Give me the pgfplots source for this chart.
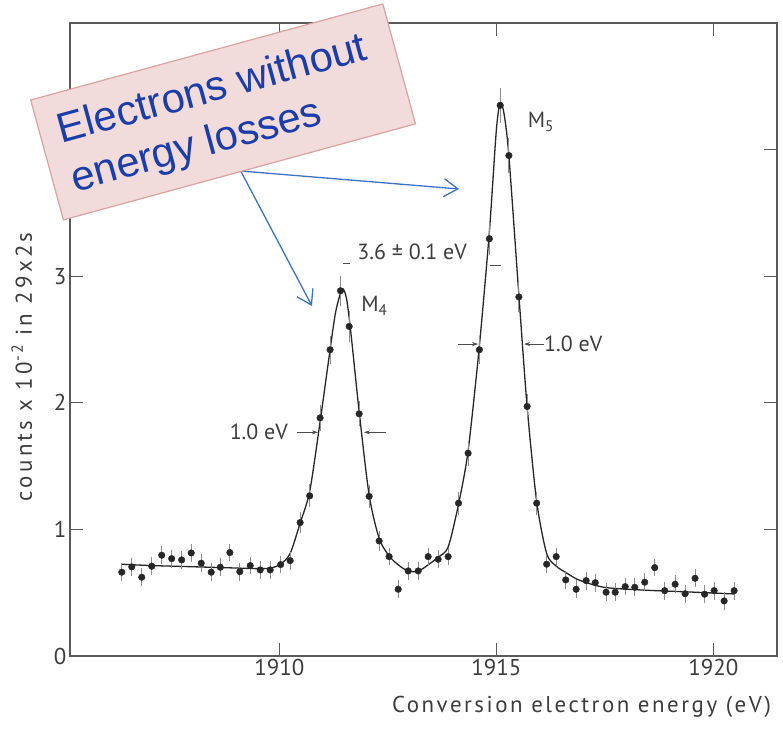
\documentclass[border=0pt]{standalone}
\usepackage{pgfplots}
\pgfplotsset{compat=1.18}
\usepackage{pgfplotstable}
\usepackage{fontspec}
\setmainfont{PT Sans}
\newfontfamily\spacedfont[LetterSpace=14]{PT Sans}
\newfontfamily\xspacedfont[LetterSpace=11]{PT Sans}
\newfontfamily\calloutfont{Liberation Sans}
\usetikzlibrary{arrows.meta}
\definecolor{axisgrey}{HTML}{5A5A5A}
\definecolor{txtgrey}{HTML}{3C3C3C}
\definecolor{pinkfill}{HTML}{F2DBDB}
\definecolor{pinkdraw}{HTML}{D9A3A3}
\definecolor{calloutblue}{HTML}{1A3DAA}
\definecolor{arrowblue}{HTML}{3C72C4}

\pgfplotstableread{
E v err
1906.37 0.662 0.07
1906.60 0.704 0.07
1906.83 0.622 0.07
1907.06 0.709 0.07
1907.29 0.796 0.07
1907.52 0.769 0.07
1907.75 0.759 0.07
1907.97 0.814 0.07
1908.20 0.733 0.07
1908.43 0.662 0.07
1908.64 0.701 0.07
1908.86 0.817 0.07
1909.09 0.666 0.07
1909.33 0.714 0.07
1909.56 0.680 0.07
1909.79 0.680 0.07
1910.03 0.722 0.07
1910.25 0.753 0.07
1910.48 1.054 0.08
1910.70 1.265 0.09
1910.94 1.881 0.10
1911.17 2.419 0.11
1911.41 2.885 0.12
1911.61 2.603 0.12
1911.84 1.913 0.10
1912.07 1.261 0.09
1912.30 0.909 0.08
1912.53 0.785 0.07
1912.74 0.527 0.07
1912.97 0.672 0.07
1913.20 0.672 0.07
1913.43 0.785 0.07
1913.66 0.764 0.07
1913.89 0.785 0.07
1914.13 1.207 0.09
1914.35 1.602 0.10
1914.61 2.419 0.11
1914.84 3.296 0.13
1915.09 4.350 0.14
1915.29 3.953 0.14
1915.52 2.836 0.12
1915.71 1.971 0.10
1915.93 1.207 0.09
1916.16 0.725 0.07
1916.38 0.785 0.07
1916.60 0.601 0.07
1916.84 0.527 0.07
1917.07 0.595 0.07
1917.28 0.579 0.07
1917.53 0.504 0.07
1917.74 0.504 0.07
1917.97 0.548 0.07
1918.19 0.543 0.07
1918.42 0.583 0.07
1918.65 0.698 0.07
1918.88 0.516 0.07
1919.12 0.567 0.07
1919.35 0.492 0.07
1919.58 0.614 0.07
1919.80 0.488 0.07
1920.02 0.516 0.07
1920.25 0.435 0.07
1920.48 0.516 0.07
}\datatable

\pgfplotstableread{
E v
1906.37 0.725
1907.00 0.715
1908.00 0.705
1909.00 0.695
1909.50 0.690
1909.80 0.695
1910.03 0.725
1910.25 0.810
1910.48 1.050
1910.70 1.300
1910.94 1.850
1911.17 2.420
1911.30 2.720
1911.45 2.900
1911.55 2.820
1911.65 2.550
1911.84 1.930
1912.07 1.270
1912.30 0.930
1912.53 0.790
1912.74 0.720
1912.97 0.670
1913.20 0.670
1913.43 0.720
1913.66 0.780
1913.89 0.860
1914.13 1.200
1914.35 1.620
1914.61 2.450
1914.84 3.350
1915.00 4.150
1915.09 4.370
1915.18 4.280
1915.29 3.950
1915.52 2.850
1915.71 1.970
1915.93 1.220
1916.16 0.810
1916.38 0.710
1916.60 0.660
1916.84 0.610
1917.07 0.580
1917.53 0.540
1918.42 0.520
1919.50 0.505
1920.48 0.490
}\fittable

\begin{document}
\begin{tikzpicture}
\path[use as bounding box] (0,0) rectangle (783bp,731bp);
\begin{axis}[
  at={(70bp,75bp)}, anchor=south west,
  scale only axis, width=707bp, height=633bp,
  xmin=1905.177, xmax=1921.468, ymin=0, ymax=5,
  xtick={1910,1915,1920},
  ytick={0,1,2,3,4},
  yticklabels={0,1,2,3,{}},
  tick align=inside,
  major tick length=13bp,
  axis line style={draw=axisgrey, line width=1.3bp},
  every tick/.style={draw=axisgrey, line width=1.3bp},
  /pgf/number format/assume math mode=true,
  /pgf/number format/1000 sep={},
  tick label style={font=\fontsize{23}{27}\selectfont, text=txtgrey},
  clip=false,
  xlabel={\xspacedfont Conversion electron energy (eV)},
  xlabel style={at={(rel axis cs:0.7235,-0.0885)}, anchor=base, font=\fontsize{23}{27}\selectfont, text=txtgrey},
  ylabel={\spacedfont counts x 10\textsuperscript{-2} in 29x2s},
  ylabel style={at={(rel axis cs:-0.0540,0.457)}, anchor=base, rotate=0, font=\fontsize{23}{27}\selectfont, text=txtgrey},
]
\addplot[black!85, line width=1.3bp, smooth, tension=0.45] table[x=E, y=v] {\fittable};
\addplot[only marks, mark=*, mark size=3.3bp, mark options={fill=black!85, draw=black!85},
  error bars/.cd, y dir=both, y explicit,
  error bar style={draw=black!45, line width=0.8bp}, error mark=none]
  table[x=E, y=v, y error=err] {\datatable};

% FWHM arrows
\draw[-{Stealth[length=6bp,width=4bp]}, black!70, line width=0.7bp] (axis cs:1910.40,1.767) -- (axis cs:1910.89,1.767);
\draw[-{Stealth[length=6bp,width=4bp]}, black!70, line width=0.7bp] (axis cs:1912.46,1.767) -- (axis cs:1911.95,1.767);
\node[anchor=east, font=\fontsize{22}{26}\selectfont, text=txtgrey, inner sep=0pt] at (axis cs:1910.20,1.767) {1.0 eV};
\draw[-{Stealth[length=6bp,width=4bp]}, black!70, line width=0.7bp] (axis cs:1914.12,2.464) -- (axis cs:1914.58,2.464);
\draw[-{Stealth[length=6bp,width=4bp]}, black!70, line width=0.7bp] (axis cs:1916.10,2.464) -- (axis cs:1915.64,2.464);
\node[anchor=west, font=\fontsize{22}{26}\selectfont, text=txtgrey, inner sep=0pt] at (axis cs:1916.10,2.464) {1.0 eV};
% peak separation
\draw[black!70, line width=0.9bp] (axis cs:1911.47,3.10) -- (axis cs:1911.63,3.10);
\draw[black!70, line width=0.9bp] (axis cs:1914.85,3.085) -- (axis cs:1915.10,3.085);
\node[font=\fontsize{22}{26}\selectfont, text=txtgrey, inner sep=0pt] at (axis cs:1913.06,3.19) {3.6 ± 0.1 eV};
\node[font=\fontsize{22}{26}\selectfont, text=txtgrey, inner sep=0pt] at (axis cs:1912.19,2.767) {M\textsubscript{4}};
\node[font=\fontsize{22}{26}\selectfont, text=txtgrey, inner sep=0pt] at (axis cs:1916.03,4.22) {M\textsubscript{5}};
\end{axis}

% callout
\draw[arrowblue, line width=1.3bp, -{Straight Barb[length=14bp,width=18bp]}] (240.7bp,560bp) -- (459bp,542bp);
\draw[arrowblue, line width=1.3bp, -{Straight Barb[length=14bp,width=18bp]}] (240.7bp,560bp) -- (312bp,425bp);
\begin{scope}[shift={(30.7bp,631bp)}, rotate=15.26]
  \draw[fill=pinkfill, draw=pinkdraw, line width=1.2bp] (0,0) rectangle (365bp,-124.3bp);
  \node[transform shape, anchor=base west, inner sep=0pt, text=calloutblue, font=\calloutfont\fontsize{42}{50}\selectfont] at (18.5bp,-50bp) {Electrons without};
  \node[transform shape, anchor=base west, inner sep=0pt, text=calloutblue, font=\calloutfont\fontsize{42}{50}\selectfont] at (18.5bp,-100.5bp) {energy losses};
\end{scope}
\end{tikzpicture}
\end{document}
